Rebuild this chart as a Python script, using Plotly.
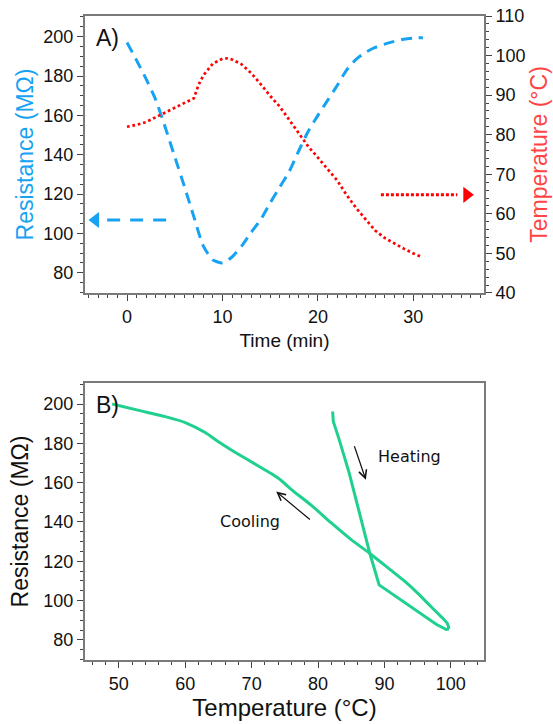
import plotly.graph_objects as go

# ---------------- Data ----------------
# Panel A: resistance vs time
time_res = [0, 1, 2, 3, 4, 5, 6, 7, 8, 9, 10, 11, 12, 13, 14, 15, 16, 17, 18, 19,
            20, 21, 22, 23, 24, 25, 26, 27, 28, 29, 30, 31]
resistance_a = [197, 188, 178.5, 168, 154, 139, 124, 108.5, 93.5, 86.5, 85, 88, 93.5,
                100.5, 107, 115.5, 123.5, 131.5, 142, 152, 160, 167.5, 175, 183, 188.5,
                192, 194.5, 196.2, 197.6, 198.7, 199.3, 199.5]
# Panel A: temperature vs time
time_temp = [0, 1, 2, 3, 4, 5, 6, 7, 7.5, 8, 9, 10, 10.5, 11, 12, 13, 14, 15, 16, 17,
             18, 19, 20, 21, 22, 23, 24, 25, 26, 27, 28, 29, 30, 30.8]
temperature_a = [82.0, 82.5, 83.2, 84.4, 85.6, 86.8, 88.0, 89.2, 92.6, 95.0, 98.0, 99.2,
                 99.3, 99.0, 97.8, 95.6, 92.8, 89.8, 87.1, 83.8, 80.2, 77.0, 74.2, 71.3,
                 68.5, 64.8, 61.5, 58.6, 55.8, 53.9, 52.5, 51.2, 50.0, 49.2]

# Panel B: resistance vs temperature (heating then cooling)
heat_temp = [82.2, 82.3, 82.6, 83.2, 84.7, 86.2, 87.8, 89.2, 91.8, 94.8, 97.8, 99.3, 99.7]
heat_res = [196.2, 191.1, 188, 181.8, 164.9, 144.5, 124.1, 108, 102, 95.3, 88, 85.3, 85.6]
cool_temp = [99.7, 99.5, 98.5, 97, 95, 93, 90.5, 88, 85, 82, 79, 76, 74.5, 73, 70, 67, 65,
             63, 60, 57, 53, 49]
cool_res = [85.6, 88.2, 92.0, 97.0, 103.8, 110.0, 116.8, 123.5, 131, 139.5, 148.5, 156.5, 161,
            164.5, 170.5, 176.5, 180.8, 185.5, 190.6, 193.6, 196.8, 200]

# Direction arrows (panel A)
res_arrow_t = [4.1, -2.6]
res_arrow_r = [106.8, 106.8]
res_head = (-3.3, 106.8)
temp_arrow_t = [26.6, 34.6]
temp_arrow_v = [64.8, 64.8]
temp_head = (35.6, 64.8)

# ---------------- Styles ----------------
BLUE = "#18a2f2"
RED = "#ff0000"
RED_T = "#ff4444"
GREEN = "#1fd08e"
AX = "#7a7a7a"
FONT = "Liberation Sans, Arial, sans-serif"

fig = go.Figure()

fig.add_trace(go.Scatter(x=time_res, y=resistance_a, mode="lines",
                         line=dict(color=BLUE, width=3, dash="11px,7px", shape="spline", smoothing=0.6),
                         xaxis="x", yaxis="y", showlegend=False))
fig.add_trace(go.Scatter(x=time_temp, y=temperature_a, mode="lines",
                         line=dict(color=RED, width=2.7, dash="2.7px,2.8px"),
                         xaxis="x", yaxis="y2", showlegend=False))
# arrows
fig.add_trace(go.Scatter(x=res_arrow_t, y=res_arrow_r, mode="lines",
                         line=dict(color=BLUE, width=3, dash="13px,10px"),
                         xaxis="x", yaxis="y", showlegend=False))
fig.add_trace(go.Scatter(x=[res_head[0]], y=[res_head[1]], mode="markers",
                         marker=dict(symbol="triangle-left", size=14, color=BLUE),
                         xaxis="x", yaxis="y", showlegend=False))
fig.add_trace(go.Scatter(x=temp_arrow_t, y=temp_arrow_v, mode="lines",
                         line=dict(color=RED, width=3, dash="3px,2px"),
                         xaxis="x", yaxis="y2", showlegend=False))
fig.add_trace(go.Scatter(x=[temp_head[0]], y=[temp_head[1]], mode="markers",
                         marker=dict(symbol="triangle-right", size=14, color=RED),
                         xaxis="x", yaxis="y2", showlegend=False))

fig.add_trace(go.Scatter(x=heat_temp, y=heat_res, mode="lines",
                         line=dict(color=GREEN, width=3),
                         xaxis="x2", yaxis="y3", showlegend=False))
fig.add_trace(go.Scatter(x=cool_temp, y=cool_res, mode="lines",
                         line=dict(color=GREEN, width=3, shape="spline", smoothing=0.8),
                         xaxis="x2", yaxis="y3", showlegend=False))

tickfont = dict(family=FONT, size=18, color="#111")
common = dict(showline=True, linecolor=AX, linewidth=2, ticks="outside",
              tickcolor="#444", ticklen=6, tickwidth=1.2, showgrid=False,
              zeroline=False, tickfont=tickfont, automargin=False)

fig.update_layout(
    width=553, height=724,
    margin=dict(l=85, r=69, t=16, b=64),
    plot_bgcolor="white", paper_bgcolor="white",
    xaxis=dict(domain=[0, 1], anchor="y", range=[-4.4, 37.4], dtick=10, tick0=0,
               mirror=True,
               minor=dict(dtick=1, ticks="outside", ticklen=3, tickcolor="#444"),
               title=dict(text="Time (min)", font=dict(family=FONT, size=19, color="#111"),
                          standoff=8),
               **common),
    yaxis=dict(domain=[0.5699, 1], anchor="x", range=[69.7, 210.5], dtick=20, tick0=0,
               mirror=True,
               minor=dict(dtick=5, ticks="outside", ticklen=3, tickcolor="#444"),
               title=dict(text="Resistance (MΩ)", font=dict(family=FONT, size=23, color=BLUE),
                          standoff=3),
               **common),
    yaxis2=dict(overlaying="y", side="right", anchor="x", range=[40, 110], dtick=10,
                minor=dict(dtick=2, ticks="outside", ticklen=3, tickcolor="#444"),
                title=dict(text="Temperature (°C)", font=dict(family=FONT, size=23, color=RED_T),
                           standoff=6),
                **common),
    xaxis2=dict(domain=[0, 1], anchor="y3", range=[44.9, 105], dtick=10, tick0=0,
                mirror=True,
                minor=dict(dtick=2, ticks="outside", ticklen=3, tickcolor="#444"),
                title=dict(text="Temperature (°C)", font=dict(family=FONT, size=24, color="#111"),
                           standoff=6),
                **common),
    yaxis3=dict(domain=[0, 0.4301], anchor="x2", range=[69.8, 210.7], dtick=20, tick0=0,
                mirror=True,
                minor=dict(dtick=5, ticks="outside", ticklen=3, tickcolor="#444"),
                title=dict(text="Resistance (MΩ)", font=dict(family=FONT, size=23, color="#111"),
                           standoff=8),
                **common),
)

fig.add_annotation(text="A)", xref="x domain", yref="y domain", x=0.022, y=0.92,
                   xanchor="left", yanchor="middle", showarrow=False,
                   font=dict(family=FONT, size=23, color="#111"))
fig.add_annotation(text="B)", xref="x2 domain", yref="y3 domain", x=0.022, y=0.922,
                   xanchor="left", yanchor="middle", showarrow=False,
                   font=dict(family=FONT, size=23, color="#111"))

ann_font = dict(family="DejaVu Sans, Verdana, sans-serif", size=16, color="#111")
fig.add_annotation(text="Heating", xref="x2", yref="y3", x=93.8, y=173.2,
                   showarrow=False, font=ann_font)
fig.add_annotation(text="Cooling", xref="x2", yref="y3", x=69.8, y=140.3,
                   showarrow=False, font=ann_font)
fig.add_annotation(x=87.2, y=161.5, ax=85.4, ay=179.3, xref="x2", yref="y3",
                   axref="x2", ayref="y3", text="", showarrow=True, arrowhead=5,
                   arrowsize=1.3, arrowwidth=1.2, arrowcolor="#111")
fig.add_annotation(x=73.7, y=155.5, ax=79.0, ay=140.6, xref="x2", yref="y3",
                   axref="x2", ayref="y3", text="", showarrow=True, arrowhead=5,
                   arrowsize=1.3, arrowwidth=1.2, arrowcolor="#111")

fig.write_html("out.html", config={"displayModeBar": False},
               post_script="document.body.style.margin='0';")
